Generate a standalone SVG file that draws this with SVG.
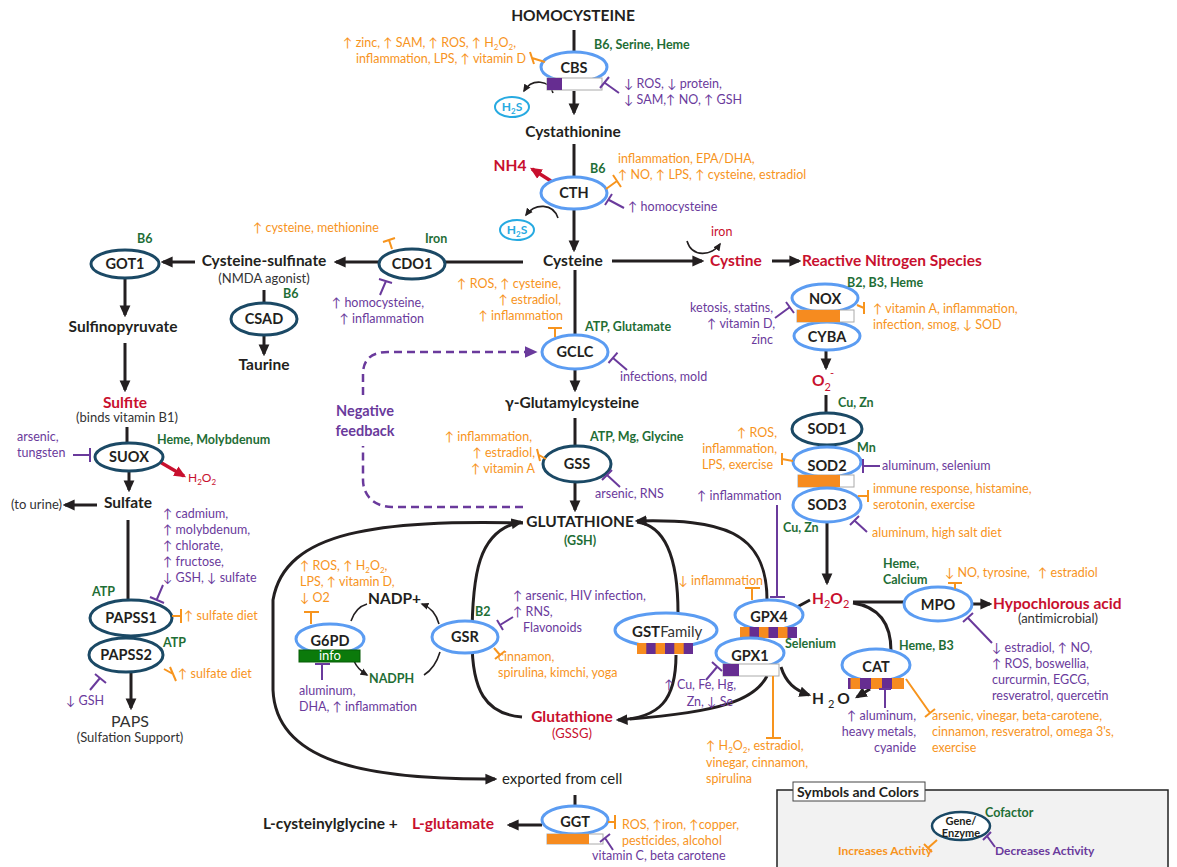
<svg xmlns="http://www.w3.org/2000/svg" width="1177" height="867" viewBox="0 0 1177 867">
<defs>
<marker id="ah" viewBox="0 0 10 10" refX="8" refY="5" markerWidth="12" markerHeight="12" orient="auto-start-reverse" markerUnits="userSpaceOnUse"><path d="M0,0.5 L10,5 L0,9.5 z" fill="#231f20"/></marker>
<marker id="ahr" viewBox="0 0 10 10" refX="8" refY="5" markerWidth="12" markerHeight="12" orient="auto" markerUnits="userSpaceOnUse"><path d="M0,0.5 L10,5 L0,9.5 z" fill="#c8102e"/></marker>
<marker id="ahp" viewBox="0 0 10 10" refX="8" refY="5" markerWidth="13" markerHeight="13" orient="auto" markerUnits="userSpaceOnUse"><path d="M0,0.5 L10,5 L0,9.5 z" fill="#6a3a9c"/></marker>
<marker id="as" viewBox="0 0 10 10" refX="8" refY="5" markerWidth="8" markerHeight="8" orient="auto" markerUnits="userSpaceOnUse"><path d="M0,0.5 L10,5 L0,9.5 z" fill="#231f20"/></marker>
</defs>
<style>
text{font-family:Lato,"Open Sans","Liberation Sans",sans-serif}
.m{font-weight:700;font-size:15.5px;fill:#231f20}
.e{font-weight:700;font-size:14.5px;fill:#231f20;text-anchor:middle}
.g{font-weight:700;font-size:12.5px;fill:#1f6e36}
.o{font-size:12.5px;fill:#f7941d}
.p{font-size:12.5px;fill:#6a3a9c}
.r{font-weight:700;font-size:15.5px;fill:#c8102e}
.n{font-size:13px;fill:#333}
.c{text-anchor:middle}
.end{text-anchor:end}
.sub{font-size:8px}
.lb{fill:#fff;stroke:#5b9cf2;stroke-width:3}
.nv{fill:#fff;stroke:#1b4965;stroke-width:3}
.ln{fill:none;stroke:#231f20;stroke-width:3}
.th{fill:none;stroke:#231f20;stroke-width:1.6}
.ti{fill:none;stroke:#f7941d;stroke-width:2}
.tp{fill:none;stroke:#6a3a9c;stroke-width:2}
.bw{fill:#fff;stroke:#aaa;stroke-width:1}
.bo{fill:#f68b1f}
.bp{fill:#662d91}
.h2s{fill:#fff;stroke:#27aae1;stroke-width:2}
</style>
<rect width="1177" height="867" fill="#fff"/>

<g id="connectors">
<path class="ln" d="M574,30 L574,52"/>
<path class="ln" d="M574,91 L574,113" marker-end="url(#ah)"/>
<path class="ln" d="M574,144 L574,177"/>
<path class="ln" d="M574,210 L574,250" marker-end="url(#ah)"/>
<path class="ln" d="M612,261 L702,261" marker-end="url(#ah)"/>
<path class="ln" d="M772,261 L799,261" marker-end="url(#ah)"/>
<path class="ln" d="M523,262 L445,262"/>
<path class="ln" d="M379,262 L336,262" marker-end="url(#ah)"/>
<path class="ln" d="M195,262 L163,262" marker-end="url(#ah)"/>
<path class="ln" d="M125,278 L125,315" marker-end="url(#ah)"/>
<path class="ln" d="M125,343 L125,390" marker-end="url(#ah)"/>
<path class="ln" d="M264,290 L264,303"/>
<path class="ln" d="M264,335 L264,354" marker-end="url(#ah)"/>
<path class="ln" d="M127,427 L127,443"/>
<path class="ln" d="M129,471 L129,490" marker-end="url(#ah)"/>
<path class="ln" d="M97,505 L65,505" marker-end="url(#ah)"/>
<path class="ln" d="M128,520 L128,600"/>
<path class="ln" d="M131,672 L131,708" marker-end="url(#ah)"/>
<path class="ln" d="M575,270 L575,335"/>
<path class="ln" d="M575,370 L575,390" marker-end="url(#ah)"/>
<path class="ln" d="M575,418 L575,446"/>
<path class="ln" d="M575,482 L575,510" marker-end="url(#ah)"/>
<path class="ln" d="M826,350 L826,368" marker-end="url(#ah)"/>
<path class="ln" d="M826,395 L826,414"/>
<path class="ln" d="M826,445 L826,449"/>
<path class="ln" d="M827,523 L827,583" marker-end="url(#ah)"/>
<path class="ln" d="M853,602 L905,602"/>
<path class="ln" d="M972,604 L990,604" marker-end="url(#ah)"/>
<path class="ln" d="M853,603 C880,607 891,625 891,651"/>
<path class="ln" d="M870,689 L857,697" marker-end="url(#ah)"/>
<path class="ln" d="M781,667 C786,683 795,690 809,695" marker-end="url(#ah)"/>
<path class="ln" d="M797,607 L810,600"/>
<path class="ln" d="M575,795 L575,806"/>
<path class="ln" d="M542,825 L509,825" marker-end="url(#ah)"/>
<path class="ln" d="M523,523 C380,520 285,530 273,600 L273,690 C276,760 360,780 495,779" marker-end="url(#ah)"/>
<path class="ln" d="M522,717 C485,714 472,690 472,640 C472,575 478,530 521,522" marker-end="url(#ah)"/>
<path class="ln" d="M637,522 C668,526 678,565 678,613"/>
<path class="ln" d="M676,655 C676,700 660,718 618,720" marker-end="url(#ah)"/>
<path class="ln" d="M637,521 C720,519 767,530 767,600" marker-start="url(#ah)"/>
<path class="ln" d="M767,676 C755,700 720,712 630,719"/>
<path class="th" d="M351,621 C354,612 360,606 367,604"/>
<path class="th" d="M439,624 C436,613 430,607 422,604" marker-end="url(#as)"/>
<path class="th" d="M354,661 C357,668 362,672 367,675" marker-end="url(#as)"/>
<path class="th" d="M424,675 C432,670 437,662 440,652"/>
<path class="th" d="M553,93 C550,80 532,78 524,91" marker-end="url(#as)"/>
<path class="th" d="M558,218 C553,203 535,203 526,215" marker-end="url(#as)"/>
<path class="th" d="M687,241 C692,258 712,256 720,244" marker-end="url(#as)"/>
<path fill="none" stroke="#c8102e" stroke-width="3.5" d="M551,181 L532,169" marker-end="url(#ahr)"/>
<path fill="none" stroke="#c8102e" stroke-width="3.5" d="M160,462 L184,476" marker-end="url(#ahr)"/>
<path fill="none" stroke="#6a3a9c" stroke-width="2.5" stroke-dasharray="8,5" d="M523,507 L392,507 C375,507 363,496 363,480 L363,446 M363,395 L363,374 C363,360 371,352 388,352 L535,352" marker-end="url(#ahp)"/>
</g>

<g id="homocysteine"><text class="m c" x="573" y="21">HOMOCYSTEINE</text></g>
<g id="cystathionine"><text class="m c" x="573" y="137">Cystathionine</text></g>
<g id="cysteine"><text class="m c" x="573" y="266">Cysteine</text></g>
<g id="cystine"><text class="r" x="710" y="266">Cystine</text><text x="711" y="236" font-size="12.5" fill="#c8102e">iron</text></g>
<g id="rns"><text class="r" x="802" y="266">Reactive Nitrogen Species</text></g>
<g id="nh4"><text class="r c" x="510" y="171">NH4</text></g>

<g id="cbs">
<ellipse class="lb" cx="574" cy="67" rx="33" ry="15"/>
<rect class="bw" x="547" y="78" width="55" height="12"/>
<rect class="bp" x="547" y="78" width="15" height="12"/>
<text class="e" x="574" y="73">CBS</text>
<text class="g" x="594" y="49">B6, Serine, Heme</text>
<text class="o end" x="516" y="47">↑ zinc, ↑ SAM, ↑ ROS, ↑ H<tspan class="sub" dy="3">2</tspan><tspan dy="-3">O</tspan><tspan class="sub" dy="3">2</tspan><tspan dy="-3">,</tspan></text>
<text class="o end" x="526" y="63">inflammation, LPS, ↑ vitamin D</text>
<path class="ti" d="M532,58 L545,62 M530,52 L534,64"/>
<text class="p" x="624" y="88">↓ ROS, ↓ protein,</text>
<text class="p" x="624" y="104">↓ SAM,↑ NO, ↑ GSH</text>
<path class="tp" d="M619,93 L605,83 M600,88 L609,77"/>
</g>
<g id="h2s1"><ellipse class="h2s" cx="512" cy="107" rx="17" ry="10"/><text x="512" y="111" font-size="12" font-weight="700" fill="#27aae1" text-anchor="middle">H<tspan class="sub" dy="3">2</tspan><tspan dy="-3">S</tspan></text></g>

<g id="cth">
<ellipse class="lb" cx="574" cy="193" rx="33" ry="16"/>
<text class="e" x="574" y="198">CTH</text>
<text class="g" x="590" y="173">B6</text>
<text class="o" x="618" y="163">inflammation, EPA/DHA,</text>
<text class="o" x="618" y="179">↑ NO, ↑ LPS, ↑ cysteine, estradiol</text>
<path class="ti" d="M606,189 L617,181 M613,175 L621,187"/>
<text class="p" x="628" y="211">↑ homocysteine</text>
<path class="tp" d="M624,208 L609,200 M605,205 L612,194"/>
</g>
<g id="h2s2"><ellipse class="h2s" cx="517" cy="230" rx="17" ry="10"/><text x="517" y="234" font-size="12" font-weight="700" fill="#27aae1" text-anchor="middle">H<tspan class="sub" dy="3">2</tspan><tspan dy="-3">S</tspan></text></g>

<g id="cdo1">
<ellipse class="nv" cx="412" cy="264" rx="33" ry="15"/>
<text class="e" x="412" y="269">CDO1</text>
<text class="g" x="425" y="243">Iron</text>
<text class="o" x="253" y="232">↑ cysteine, methionine</text>
<path class="ti" d="M389,240 L392,249 M383,242 L395,238"/>
<text class="p end" x="424" y="307">↑ homocysteine,</text>
<text class="p end" x="424" y="323">↑ inflammation</text>
<path class="tp" d="M380,295 L386,281 M379,279 L392,283"/>
</g>
<g id="cysteine-sulfinate"><text class="m c" x="264" y="266">Cysteine-sulfinate</text><text class="n c" x="264" y="283">(NMDA agonist)</text></g>
<g id="got1">
<ellipse class="nv" cx="125" cy="264" rx="34" ry="14"/>
<text class="e" x="125" y="269">GOT1</text>
<text class="g" x="137" y="243">B6</text>
</g>
<g id="sulfinopyruvate"><text class="m c" x="123" y="332">Sulfinopyruvate</text></g>
<g id="csad">
<ellipse class="nv" cx="264" cy="319" rx="33" ry="16"/>
<text class="e" x="264" y="324">CSAD</text>
<text class="g" x="283" y="298">B6</text>
</g>
<g id="taurine"><text class="m c" x="264" y="370">Taurine</text></g>
<g id="sulfite"><text class="r c" x="125" y="408">Sulfite</text><text class="n c" x="127" y="422">(binds vitamin B1)</text></g>
<g id="suox">
<ellipse class="nv" cx="129" cy="457" rx="34" ry="14"/>
<text class="e" x="129" y="462">SUOX</text>
<text class="g" x="157" y="444">Heme, Molybdenum</text>
<text class="p" x="17" y="441">arsenic,</text>
<text class="p" x="17" y="457">tungsten</text>
<path class="tp" d="M73,455 L90,455 M90,448 L90,462"/>
<text x="188" y="482" font-size="12" fill="#c8102e">H<tspan class="sub" dy="3">2</tspan><tspan dy="-3">O</tspan><tspan class="sub" dy="3">2</tspan></text>
</g>
<g id="sulfate"><text class="m c" x="128" y="508">Sulfate</text><text class="n end" x="62" y="509">(to urine)</text></g>
<g id="papss1">
<ellipse class="nv" cx="131" cy="618" rx="41" ry="18"/>
<text class="e" x="131" y="623" font-size="15">PAPSS1</text>
<text class="g" x="92" y="596">ATP</text>
<text class="p" x="163" y="518">↑ cadmium,</text>
<text class="p" x="163" y="534">↑ molybdenum,</text>
<text class="p" x="163" y="550">↑ chlorate,</text>
<text class="p" x="163" y="566">↑ fructose,</text>
<text class="p" x="163" y="582">↓ GSH, ↓ sulfate</text>
<path class="tp" d="M163,585 L157,599 M150,597 L164,603"/>
<path class="ti" d="M172,616 L181,616 M181,609 L181,623"/>
<text class="o" x="184" y="620">↑ sulfate diet</text>
</g>
<g id="papss2">
<ellipse class="nv" cx="126" cy="655" rx="37" ry="17"/>
<text class="e" x="126" y="660" font-size="15">PAPSS2</text>
<text class="g" x="163" y="647">ATP</text>
<path class="ti" d="M164,669 L173,674 M170,667 L176,681"/>
<text class="o" x="178" y="678">↑ sulfate diet</text>
<path class="tp" d="M90,690 L100,678 M95,674 L106,683"/>
<text class="p" x="66" y="705">↓ GSH</text>
</g>
<g id="paps"><text class="c" x="130" y="727" font-size="16" fill="#333">PAPS</text><text class="n c" x="130" y="742">(Sulfation Support)</text></g>

<g id="gclc">
<ellipse class="lb" cx="575" cy="352" rx="33" ry="17"/>
<text class="e" x="575" y="357">GCLC</text>
<text class="g" x="585" y="331">ATP, Glutamate</text>
<text class="o end" x="561" y="288">↑ ROS, ↑ cysteine,</text>
<text class="o end" x="561" y="304">↑ estradiol,</text>
<text class="o end" x="563" y="320">↑ inflammation</text>
<path class="ti" d="M555,328 L555,337 M548,328 L562,328"/>
<path class="tp" d="M627,370 L613,358 M608.5,363 L617.5,352.7"/>
<text class="p" x="620" y="381">infections, mold</text>
</g>
<g id="glutamylcysteine"><text class="m c" x="572" y="408">γ-Glutamylcysteine</text></g>
<g id="gss">
<ellipse class="nv" cx="577" cy="464" rx="34" ry="18"/>
<text class="e" x="577" y="469">GSS</text>
<text class="g" x="590" y="441">ATP, Mg, Glycine</text>
<text class="o end" x="532" y="441">↑ inflammation,</text>
<text class="o end" x="535" y="457">↑ estradiol,</text>
<text class="o end" x="535" y="473">↑ vitamin A</text>
<path class="ti" d="M539,455 L546,459 M537,449 L540,461"/>
<path class="tp" d="M620,487 L607,475 M602,480 L612,470"/>
<text class="p" x="595" y="498">arsenic, RNS</text>
</g>
<g id="negative-feedback"><text class="c" x="365" y="416" font-size="14.5" font-weight="700" fill="#6a3a9c">Negative</text><text class="c" x="365" y="436" font-size="14.5" font-weight="700" fill="#6a3a9c">feedback</text></g>
<g id="glutathione"><text class="m c" x="580" y="527">GLUTATHIONE</text><text class="g c" x="580" y="545" font-size="12">(GSH)</text></g>

<g id="nox">
<ellipse class="lb" cx="825" cy="298" rx="33" ry="14"/>
<ellipse class="lb" cx="827" cy="336" rx="33" ry="14"/>
<rect class="bw" x="797" y="310" width="57" height="12"/>
<rect class="bo" x="797" y="310" width="43" height="12"/>
<text class="e" x="825" y="304">NOX</text>
<text class="e" x="827" y="342">CYBA</text>
<text class="g" x="847" y="287">B2, B3, Heme</text>
<text class="p end" x="773" y="312">ketosis, statins,</text>
<text class="p end" x="775" y="328">↑ vitamin D,</text>
<text class="p end" x="773" y="344">zinc</text>
<path class="tp" d="M775,318 L790,307 M786,302 L794,313"/>
<path class="ti" d="M857,305 L864,308 M864,302 L864,314"/>
<text class="o" x="873" y="313">↑ vitamin A, inflammation,</text>
<text class="o" x="873" y="329">infection, smog, ↓ SOD</text>
</g>
<g id="superoxide"><text class="r" x="812" y="386" font-size="17">O<tspan font-size="11" font-weight="400" dy="5">2</tspan><tspan font-size="11" font-weight="400" dx="-1" dy="-14">-</tspan></text></g>
<g id="sod1">
<ellipse class="nv" cx="827" cy="429" rx="35" ry="16"/>
<text class="e" x="827" y="434">SOD1</text>
<text class="g" x="838" y="407">Cu, Zn</text>
</g>
<g id="sod2">
<ellipse class="lb" cx="827" cy="462" rx="34" ry="15"/>
<rect class="bw" x="798" y="475" width="56" height="12"/>
<rect class="bo" x="798" y="475" width="42" height="12"/>
<text class="e" x="827" y="471">SOD2</text>
<text class="g" x="857" y="452">Mn</text>
<text class="o end" x="777" y="437">↑ ROS,</text>
<text class="o end" x="777" y="453">inflammation,</text>
<text class="o end" x="773" y="469">LPS, exercise</text>
<path class="ti" d="M782,459 L793,461 M782,453 L782,465"/>
<path class="tp" d="M880,466 L863,466 M863,459 L863,473"/>
<text class="p" x="882" y="470">aluminum, selenium</text>
</g>
<g id="sod3">
<ellipse class="lb" cx="827" cy="505" rx="34" ry="17"/>
<text class="e" x="827" y="510">SOD3</text>
<path class="ti" d="M858,496 L868,496 M868,490 L868,502"/>
<text class="o" x="873" y="493">immune response, histamine,</text>
<text class="o" x="873" y="509">serotonin, exercise</text>
<path class="tp" d="M867,532 L855,521 M850,525 L859,516"/>
<text class="o" x="872" y="537">aluminum, high salt diet</text>
<text class="g" x="783" y="532">Cu, Zn</text>
</g>
<g id="h2o2"><text class="r" x="812" y="604" font-size="17">H<tspan font-size="11" font-weight="400" dy="4">2</tspan><tspan dy="-4">O</tspan><tspan font-size="11" font-weight="400" dy="4">2</tspan></text></g>
<g id="mpo">
<ellipse class="lb" cx="938" cy="604" rx="34" ry="17"/>
<text class="e" x="938" y="610">MPO</text>
<text class="g" x="883" y="568">Heme,</text>
<text class="g" x="883" y="584">Calcium</text>
<text class="o" x="945" y="577">↓ NO, tyrosine,</text>
<text class="o" x="1038" y="577">↑ estradiol</text>
<path class="ti" d="M955,583 L955,589 M948,583 L962,583"/>
<path class="tp" d="M992,643 L968,618 M963,622 L973,613"/>
<text class="p" x="992" y="652">↓ estradiol, ↑ NO,</text>
<text class="p" x="992" y="668">↑ ROS, boswellia,</text>
<text class="p" x="992" y="684">curcurmin, EGCG,</text>
<text class="p" x="992" y="700">resveratrol, quercetin</text>
</g>
<g id="hypochlorous"><text class="r" x="993" y="609" font-size="16.5">Hypochlorous acid</text><text class="n c" x="1058" y="623">(antimicrobial)</text></g>
<g id="cat">
<ellipse class="lb" cx="876" cy="665" rx="34" ry="16"/>
<rect class="bo" x="848" y="678" width="56" height="11"/>
<rect class="bp" x="848" y="678" width="2.5" height="11"/>
<rect class="bp" x="860" y="678" width="11" height="11"/>
<rect class="bp" x="882" y="678" width="10" height="11"/>
<text class="e" x="876" y="672">CAT</text>
<text class="g" x="899" y="650">Heme, B3</text>
<path class="tp" d="M885,689 L885,708 M879,689 L891,689"/>
<text class="p end" x="916" y="720">↑ aluminum,</text>
<text class="p end" x="916" y="736">heavy metals,</text>
<text class="p end" x="916" y="752">cyanide</text>
<path class="ti" d="M906,679 L930,713 M925,717 L935,709"/>
<text class="o" x="932" y="720">arsenic, vinegar, beta-carotene,</text>
<text class="o" x="932" y="736">cinnamon, resveratrol, omega 3's,</text>
<text class="o" x="932" y="752">exercise</text>
</g>
<g id="h2o"><text class="m" x="812" y="704" font-size="17">H<tspan font-size="11" font-weight="400" dx="4" dy="4">2</tspan><tspan dx="3" dy="-4">O</tspan></text></g>
<g id="gpx4">
<ellipse class="lb" cx="769" cy="615" rx="34" ry="15"/>
<rect class="bo" x="740" y="627" width="57" height="11"/>
<rect class="bp" x="749.5" y="627" width="9.5" height="11"/>
<rect class="bp" x="768.5" y="627" width="9.5" height="11"/>
<rect class="bp" x="787.5" y="627" width="9.5" height="11"/>
<text class="e" x="769" y="622">GPX4</text>
<text class="o end" x="763" y="585">↓ inflammation</text>
<path class="ti" d="M752,588 L752,600 M745,588 L760,588"/>
<text class="p" x="697" y="500">↑ inflammation</text>
<path class="tp" d="M777,505 L777,597 M770,597 L785,597"/>
<text class="g" x="785" y="648">Selenium</text>
</g>
<g id="gpx1">
<ellipse class="lb" cx="750" cy="653" rx="34" ry="15"/>
<rect class="bw" x="723" y="664" width="56" height="12"/>
<rect class="bp" x="723" y="664" width="16" height="12"/>
<text class="e" x="750" y="661">GPX1</text>
<path class="tp" d="M706,680 L717,667 M712,662 L722,671"/>
<text class="p end" x="736" y="689">↑ Cu, Fe, Hg,</text>
<text class="p end" x="733" y="706">Zn, ↓ Se</text>
<path class="ti" d="M773,676 L773,738 M766,738 L781,738"/>
<text class="o" x="706" y="750">↑ H<tspan class="sub" dy="3">2</tspan><tspan dy="-3">O</tspan><tspan class="sub" dy="3">2</tspan><tspan dy="-3">, estradiol,</tspan></text>
<text class="o" x="706" y="767">vinegar, cinnamon,</text>
<text class="o" x="706" y="783">spirulina</text>
</g>
<g id="gst">
<ellipse class="lb" cx="666" cy="630" rx="51" ry="17"/>
<rect class="bo" x="637" y="643" width="56" height="11"/>
<rect class="bp" x="646.3" y="643" width="9.3" height="11"/>
<rect class="bp" x="665" y="643" width="9.3" height="11"/>
<rect class="bp" x="683.7" y="643" width="9.3" height="11"/>
<text x="632" y="637" font-size="15" font-weight="700" fill="#231f20">GST<tspan font-weight="400" fill="#333">Family</tspan></text>
</g>
<g id="g6pd">
<ellipse class="lb" cx="330" cy="639" rx="34" ry="15"/>
<rect x="299" y="650" width="61" height="12" fill="#0b7a0b" stroke="#075c07" stroke-width="1"/>
<text class="e" x="330" y="646" font-size="15">G6PD</text>
<text class="c" x="330" y="660" font-size="13" fill="#fff">info</text>
<text class="o" x="300" y="570">↑ ROS, ↑ H<tspan class="sub" dy="3">2</tspan><tspan dy="-3">O</tspan><tspan class="sub" dy="3">2</tspan><tspan dy="-3">,</tspan></text>
<text class="o" x="300" y="586">LPS, ↑ vitamin D,</text>
<text class="o" x="300" y="602">↓ O2</text>
<path class="ti" d="M311,612 L311,624 M304,612 L319,612"/>
<path class="tp" d="M322,680 L322,664 M315,664 L330,664"/>
<text class="p" x="299" y="695">aluminum,</text>
<text class="p" x="299" y="711">DHA, ↑ inflammation</text>
</g>
<g id="nadp"><text class="m" x="368" y="604">NADP+</text></g>
<g id="nadph"><text class="g" x="369" y="683" font-size="15.5">NADPH</text></g>
<g id="gsr">
<ellipse class="lb" cx="465" cy="637" rx="33" ry="16"/>
<text class="e" x="465" y="642">GSR</text>
<text class="g" x="475" y="616">B2</text>
<path class="tp" d="M513,617 L500,625 M497,620 L503,630"/>
<text class="p" x="513" y="600">↑ arsenic, HIV infection,</text>
<text class="p" x="513" y="616">↑ RNS,</text>
<text class="p" x="523" y="632">Flavonoids</text>
<path class="ti" d="M494,648 L500,655 M495,659 L505,651"/>
<text class="o" x="498" y="661">cinnamon,</text>
<text class="o" x="498" y="677">spirulina, kimchi, yoga</text>
</g>
<g id="gssg"><text class="r c" x="572" y="722" font-size="16">Glutathione</text><text class="c" x="572" y="738" font-size="13" fill="#c8102e">(GSSG)</text></g>
<g id="exported"><text x="502" y="784" font-size="15" fill="#231f20">exported from cell</text></g>
<g id="ggt">
<ellipse class="lb" cx="575" cy="820" rx="33" ry="14"/>
<rect class="bw" x="547" y="834" width="56" height="10"/>
<rect class="bo" x="547" y="834" width="42" height="10"/>
<text class="e" x="575" y="827">GGT</text>
<path class="ti" d="M608,822 L615,822 M615,815 L615,829"/>
<text class="o" x="622" y="829">ROS, ↑iron, ↑copper,</text>
<text class="o" x="622" y="845">pesticides, alcohol</text>
<path class="tp" d="M613,850 L605,838 M600,842 L610,834"/>
<text class="p" x="592" y="860">vitamin C, beta carotene</text>
</g>
<g id="products"><text class="m" x="263" y="829">L-cysteinylglycine +</text><text class="r" x="412" y="829">L-glutamate</text></g>

<g id="legend">
<rect x="777" y="790" width="391" height="90" fill="#f2f2f2" stroke="#222" stroke-width="1.5"/>
<rect x="793" y="782" width="132" height="19" fill="#fff" stroke="#444" stroke-width="1"/>
<text x="797" y="797" font-size="14" font-weight="700" fill="#231f20">Symbols and Colors</text>
<ellipse cx="961" cy="826" rx="29" ry="14" fill="#fff" stroke="#1b4965" stroke-width="2.5"/>
<text class="c" x="961" y="825" font-size="11" font-weight="700" fill="#231f20">Gene/</text>
<text class="c" x="961" y="837" font-size="11" font-weight="700" fill="#231f20">Enzyme</text>
<text class="g" x="985" y="817" font-size="12">Cofactor</text>
<text x="838" y="855" font-size="12" font-weight="700" fill="#f7941d">Increases Activity</text>
<path class="ti" d="M928,848 L937,840 M924,844 L932,852"/>
<text x="995" y="855" font-size="12" font-weight="700" fill="#6a3a9c">Decreases Activity</text>
<path class="tp" d="M995,847 L987,836 M983,840 L991,832"/>
</g>
</svg>
